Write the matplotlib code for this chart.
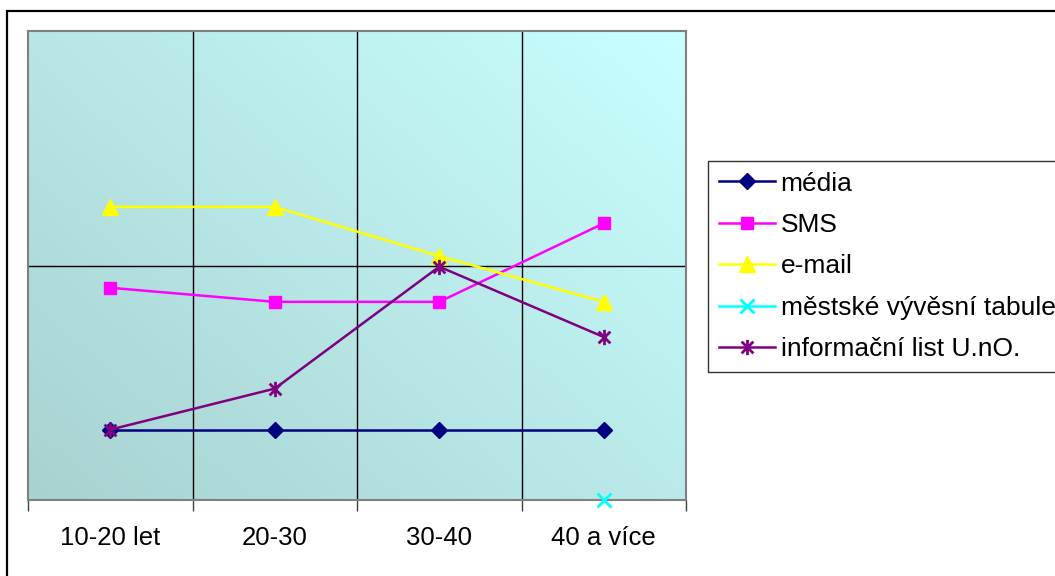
import numpy as np
import matplotlib
matplotlib.use('Agg')
import matplotlib.pyplot as plt
from matplotlib.path import Path
from matplotlib.patches import Rectangle
from matplotlib.colors import LinearSegmentedColormap
from matplotlib.lines import Line2D

plt.rcParams['font.family'] = ['Liberation Sans', 'DejaVu Sans']

categories = ['10-20 let', '20-30', '30-40', '40 a více']
media = [6.0, 6.0, 6.0, 6.0]
sms = [18.1, 16.9, 16.9, 23.6]
email = [25.0, 25.0, 20.8, 16.9]
tabule = [np.nan, np.nan, np.nan, 0.0]
info_list = [6.0, 9.5, 19.9, 13.9]
series_names = ['média', 'SMS', 'e-mail', 'městské vývěsní tabule', 'informační list U.nO.']

W, H = 1055, 576
fig = plt.figure(figsize=(W / 100, H / 100), dpi=100)

# outer chart border (clipped at right and bottom like the original)
fig.patches.append(Rectangle((7 / W, -0.05), 1.1, (576 - 11) / H + 0.05,
                             transform=fig.transFigure, fill=False,
                             edgecolor='black', linewidth=1.6))

ax = fig.add_axes([28 / W, (576 - 500) / H, (686 - 28) / W, (500 - 31) / H])
ax.set_xlim(-0.5, 3.5)
ax.set_ylim(0, 40)

# diagonal gradient background
cmap_bg = LinearSegmentedColormap.from_list('bg', ['#A8D2D0', '#C8FFFF'])
gx, gy = np.meshgrid(np.linspace(0, 1, 200), np.linspace(0, 1, 200))
ax.imshow(0.55 * gx + 0.45 * gy, extent=(-0.5, 3.5, 0, 40), origin='lower',
          cmap=cmap_bg, aspect='auto', zorder=0)

for s in ax.spines.values():
    s.set_color('#808080')
    s.set_linewidth(1.5)

# grid
for xb in [0.5, 1.5, 2.5]:
    ax.axvline(xb, color='black', lw=1.0, zorder=1)
ax.axhline(20, color='black', lw=1.0, zorder=1)

ax.set_xticks(range(4))
ax.set_xticklabels(categories, fontsize=18.5)
ax.tick_params(axis='x', length=0, pad=19)
ax.set_xticks([-0.5, 0.5, 1.5, 2.5, 3.5], minor=True)
ax.tick_params(axis='x', which='minor', length=8, color='#404040', width=1)
ax.set_yticks([])

star = Path([(-1, -1), (1, 1), (-1, 1), (1, -1), (0, -1.3), (0, 1.3)],
            [Path.MOVETO, Path.LINETO, Path.MOVETO, Path.LINETO, Path.MOVETO, Path.LINETO])

x = np.arange(4)
styles = [
    (media, '#000080', 'D', 8, 1),
    (sms, '#FF00FF', 's', 9, 1),
    (email, '#FFFF00', '^', 11, 1),
    (tabule, '#00FFFF', 'x', 10, 2),
    (info_list, '#800080', star, 11, 2),
]
handles = []
for (vals, col, mk, ms, mew), name in zip(styles, series_names):
    ax.plot(x, vals, color=col, lw=1.8, marker=mk, markersize=ms,
            markerfacecolor=col, markeredgecolor=col, markeredgewidth=mew,
            zorder=3, clip_on=False)
    handles.append(Line2D([0], [0], color=col, lw=1.8, marker=mk, markersize=ms,
                          markerfacecolor=col, markeredgecolor=col,
                          markeredgewidth=mew))

leg = fig.legend(handles, series_names, loc='upper left',
                 bbox_to_anchor=(708 / W, (576 - 161) / H), fontsize=19,
                 frameon=True, fancybox=False, edgecolor='black',
                 handlelength=2.15, handletextpad=0.2, borderpad=0.4,
                 labelspacing=0.66, borderaxespad=0)
leg.get_frame().set_linewidth(1.0)

fig.savefig('out.png', dpi=100)
